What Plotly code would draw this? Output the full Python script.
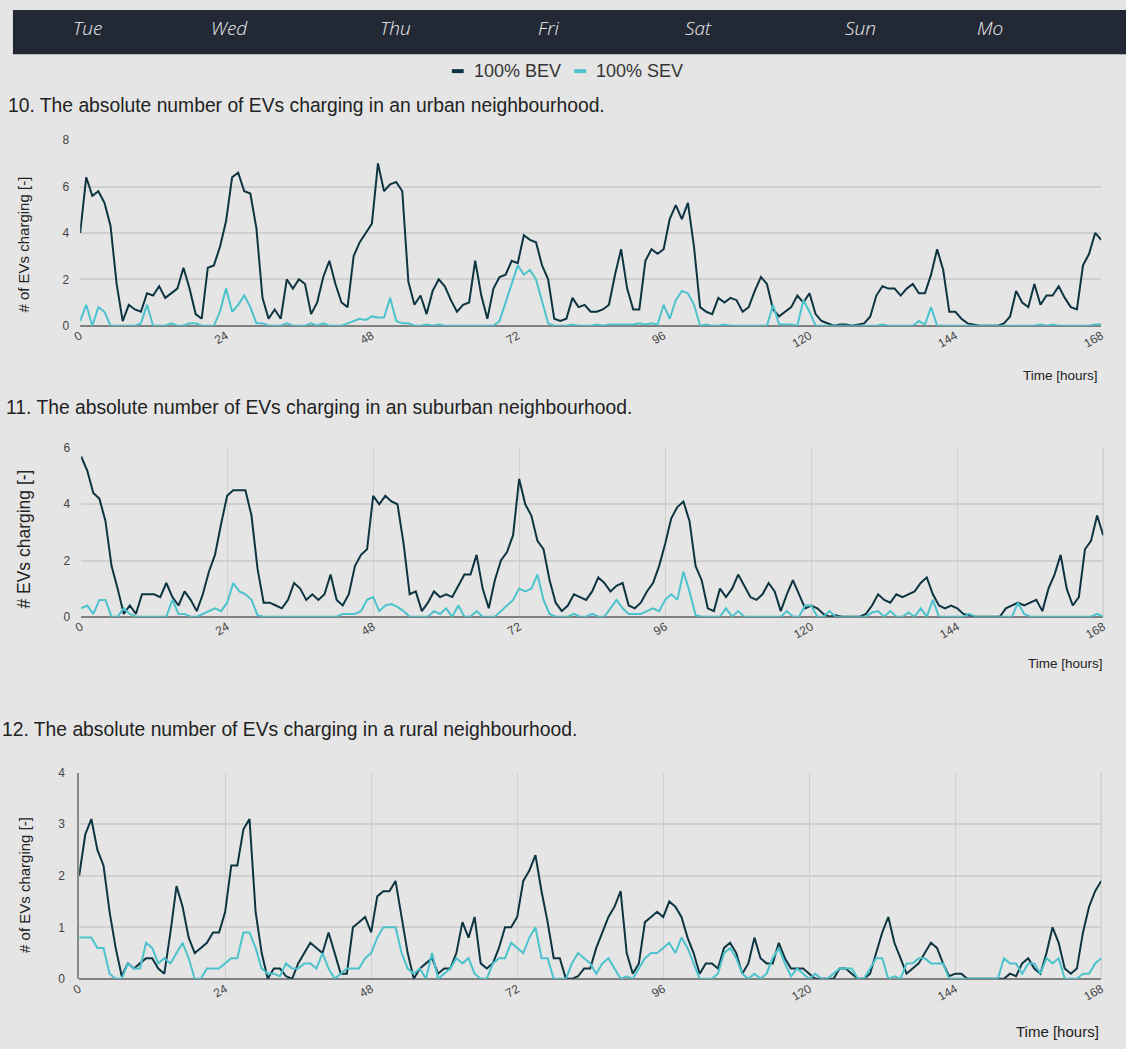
import plotly.graph_objects as go

# figure fills the window; margins are zero, so paper coords = px / size
W, H = 1126, 1049

hours = list(range(169))
days = ["Tue", "Wed", "Thu", "Fri", "Sat", "Sun", "Mo"]
series_names = ["100% BEV", "100% SEV"]

# urban neighbourhood
urban_bev = [4.0, 6.4, 5.6, 5.8, 5.3, 4.3, 1.8, 0.2, 0.9, 0.7, 0.6, 1.4, 1.3, 1.7, 1.2, 1.4, 1.6, 2.5, 1.6, 0.5, 0.3, 2.5, 2.6, 3.4,
             4.5, 6.4, 6.6, 5.8, 5.7, 4.2, 1.2, 0.3, 0.7, 0.3, 2.0, 1.6, 2.0, 1.8, 0.5, 1.0, 2.1, 2.8, 1.8, 1.0, 0.8, 3.0, 3.6, 4.0,
             4.4, 7.0, 5.8, 6.1, 6.2, 5.8, 1.9, 0.9, 1.3, 0.5, 1.5, 2.0, 1.7, 1.1, 0.6, 0.9, 1.0, 2.8, 1.3, 0.3, 1.6, 2.1, 2.2, 2.8,
             2.7, 3.9, 3.7, 3.6, 2.6, 2.0, 0.3, 0.2, 0.3, 1.2, 0.8, 0.9, 0.6, 0.6, 0.7, 0.9, 2.2, 3.3, 1.6, 0.7, 0.7, 2.8, 3.3, 3.1,
             3.3, 4.6, 5.2, 4.6, 5.3, 3.4, 0.8, 0.6, 0.5, 1.2, 1.0, 1.2, 1.1, 0.6, 0.8, 1.5, 2.1, 1.8, 0.7, 0.4, 0.6, 0.8, 1.3, 1.0,
             1.4, 0.5, 0.2, 0.1, 0.0, 0.05, 0.05, 0.0, 0.05, 0.1, 0.4, 1.3, 1.7, 1.6, 1.6, 1.3, 1.6, 1.8, 1.4, 1.4, 2.2, 3.3, 2.4, 0.6,
             0.6, 0.3, 0.1, 0.05, 0.0, 0.0, 0.0, 0.0, 0.1, 0.4, 1.5, 1.0, 0.8, 1.8, 0.9, 1.3, 1.3, 1.7, 1.2, 0.8, 0.7, 2.6, 3.1, 4.0, 3.7]
urban_sev = [0.2, 0.9, 0.0, 0.8, 0.6, 0, 0, 0, 0, 0, 0.1, 0.9, 0, 0, 0, 0.1, 0, 0, 0.1, 0.1, 0, 0, 0, 0.6,
             1.6, 0.6, 0.9, 1.3, 0.8, 0.1, 0.1, 0, 0, 0, 0.1, 0, 0, 0, 0.1, 0, 0.1, 0, 0, 0, 0.1, 0.2, 0.3, 0.25,
             0.4, 0.35, 0.35, 1.2, 0.2, 0.1, 0.1, 0, 0, 0.05, 0, 0.05, 0, 0, 0, 0, 0, 0, 0, 0, 0, 0.2, 1.0, 1.8,
             2.6, 2.2, 2.4, 2.0, 1.0, 0.1, 0, 0, 0, 0.05, 0, 0, 0, 0.05, 0, 0.05, 0.05, 0.05, 0.05, 0.05, 0.1, 0.05, 0.1, 0.05,
             0.9, 0.3, 1.1, 1.5, 1.4, 0.9, 0, 0.05, 0, 0, 0.05, 0, 0, 0, 0, 0, 0, 0, 0.9, 0.05, 0.05, 0.05, 0, 1.1,
             0.6, 0, 0, 0, 0, 0, 0, 0, 0, 0, 0, 0, 0.05, 0, 0, 0, 0, 0, 0.2, 0.05, 0.8, 0, 0, 0,
             0, 0, 0, 0, 0, 0, 0, 0, 0, 0, 0, 0, 0, 0, 0.05, 0, 0.05, 0, 0, 0, 0, 0, 0, 0.05, 0.05]

# suburban neighbourhood
suburban_bev = [5.7, 5.2, 4.4, 4.2, 3.4, 1.8, 1.0, 0.1, 0.4, 0.1, 0.8, 0.8, 0.8, 0.7, 1.2, 0.7, 0.4, 0.9, 0.6, 0.2, 0.8, 1.6, 2.2, 3.3,
                4.3, 4.5, 4.5, 4.5, 3.6, 1.7, 0.5, 0.5, 0.4, 0.3, 0.6, 1.2, 1.0, 0.6, 0.8, 0.6, 0.8, 1.5, 0.6, 0.4, 0.8, 1.8, 2.2, 2.4,
                4.3, 4.0, 4.3, 4.1, 4.0, 2.6, 0.8, 0.9, 0.2, 0.5, 0.9, 0.7, 0.8, 0.7, 1.1, 1.5, 1.5, 2.2, 1.0, 0.3, 1.3, 2.0, 2.3, 2.9,
                4.9, 4.0, 3.6, 2.7, 2.4, 1.3, 0.5, 0.2, 0.4, 0.8, 0.7, 0.6, 0.9, 1.4, 1.2, 0.9, 1.1, 1.2, 0.4, 0.3, 0.5, 0.9, 1.2, 1.8,
                2.6, 3.5, 3.9, 4.1, 3.4, 1.8, 1.3, 0.3, 0.2, 1.0, 0.7, 1.0, 1.5, 1.1, 0.7, 0.6, 0.8, 1.2, 0.9, 0.2, 0.8, 1.3, 0.8, 0.3,
                0.4, 0.3, 0.1, 0.0, 0.05, 0, 0, 0, 0, 0.1, 0.4, 0.8, 0.6, 0.5, 0.8, 0.7, 0.8, 0.9, 1.2, 1.4, 0.8, 0.4, 0.3, 0.4,
                0.3, 0.1, 0.05, 0, 0, 0, 0, 0, 0.3, 0.4, 0.5, 0.4, 0.5, 0.6, 0.2, 1.0, 1.5, 2.2, 1.0, 0.4, 0.7, 2.4, 2.7, 3.6, 2.9]
suburban_sev = [0.3, 0.4, 0.1, 0.6, 0.6, 0, 0, 0.3, 0.1, 0, 0, 0, 0, 0, 0, 0.6, 0.1, 0.1, 0, 0, 0.1, 0.2, 0.3, 0.2,
                0.5, 1.2, 0.9, 0.8, 0.6, 0.05, 0, 0, 0, 0, 0, 0, 0, 0, 0, 0, 0, 0, 0, 0.1, 0.1, 0.1, 0.2, 0.6,
                0.7, 0.2, 0.4, 0.45, 0.35, 0.2, 0, 0, 0, 0, 0.2, 0.1, 0.3, 0, 0.4, 0, 0, 0.2, 0, 0, 0, 0.2, 0.4, 0.6,
                1.0, 0.9, 1.0, 1.5, 0.6, 0.1, 0, 0, 0, 0.1, 0, 0, 0.1, 0, 0, 0.3, 0.6, 0.3, 0.1, 0.1, 0.1, 0.2, 0.3, 0.2,
                0.6, 0.8, 0.6, 1.6, 0.9, 0.05, 0, 0, 0, 0, 0.3, 0, 0.2, 0, 0, 0, 0, 0, 0, 0, 0.2, 0, 0, 0.4,
                0.4, 0, 0, 0.2, 0, 0, 0, 0, 0, 0, 0.15, 0.2, 0, 0.2, 0, 0, 0.15, 0, 0.3, 0, 0.6, 0, 0, 0,
                0, 0, 0.1, 0, 0, 0, 0, 0, 0, 0, 0.5, 0.1, 0, 0, 0, 0, 0, 0, 0, 0, 0, 0, 0, 0.1, 0]

# rural neighbourhood
rural_bev = [2.0, 2.8, 3.1, 2.5, 2.2, 1.3, 0.6, 0.05, 0.3, 0.2, 0.3, 0.4, 0.4, 0.2, 0.1, 0.9, 1.8, 1.4, 0.8, 0.5, 0.6, 0.7, 0.9, 0.9,
             1.3, 2.2, 2.2, 2.9, 3.1, 1.3, 0.5, 0.0, 0.2, 0.2, 0.05, 0.0, 0.3, 0.5, 0.7, 0.6, 0.5, 0.9, 0.5, 0.1, 0.1, 1.0, 1.1, 1.2,
             0.9, 1.6, 1.7, 1.7, 1.9, 1.2, 0.5, 0.0, 0.2, 0.3, 0.4, 0.1, 0.2, 0.2, 0.5, 1.1, 0.8, 1.2, 0.3, 0.2, 0.3, 0.6, 1.0, 1.0,
             1.2, 1.9, 2.1, 2.4, 1.7, 1.1, 0.4, 0.4, 0.0, 0.0, 0.05, 0.2, 0.2, 0.6, 0.9, 1.2, 1.4, 1.7, 0.5, 0.1, 0.3, 1.1, 1.2, 1.3,
             1.2, 1.5, 1.4, 1.2, 0.8, 0.5, 0.1, 0.3, 0.3, 0.2, 0.6, 0.7, 0.5, 0.1, 0.3, 0.8, 0.4, 0.3, 0.3, 0.7, 0.4, 0.2, 0.2, 0.2,
             0.1, 0.0, 0.0, 0.0, 0.0, 0.2, 0.2, 0.1, 0.0, 0.0, 0.1, 0.5, 0.9, 1.2, 0.7, 0.4, 0.1, 0.2, 0.3, 0.5, 0.7, 0.6, 0.3, 0.05,
             0.1, 0.1, 0.0, 0.0, 0.0, 0.0, 0.0, 0.0, 0.0, 0.1, 0.05, 0.3, 0.4, 0.2, 0.1, 0.5, 1.0, 0.7, 0.2, 0.1, 0.2, 0.9, 1.4, 1.7, 1.9]
rural_sev = [0.8, 0.8, 0.8, 0.6, 0.6, 0.1, 0, 0, 0.3, 0.2, 0.2, 0.7, 0.6, 0.3, 0.4, 0.3, 0.5, 0.7, 0.4, 0, 0, 0.2, 0.2, 0.2,
             0.3, 0.4, 0.4, 0.9, 0.9, 0.6, 0.2, 0.1, 0.1, 0.05, 0.3, 0.2, 0.2, 0.3, 0.3, 0.2, 0.5, 0.2, 0, 0.1, 0.2, 0.2, 0.2, 0.4,
             0.5, 0.8, 1.0, 1.0, 1.0, 0.5, 0.2, 0.1, 0.2, 0, 0.5, 0, 0.1, 0.2, 0.4, 0.3, 0.4, 0.1, 0, 0, 0.3, 0.4, 0.4, 0.7,
             0.6, 0.5, 0.8, 1.0, 0.4, 0.4, 0, 0, 0, 0.3, 0.5, 0.4, 0.3, 0.1, 0.3, 0.4, 0.2, 0, 0.05, 0, 0.2, 0.4, 0.5, 0.5,
             0.6, 0.7, 0.5, 0.8, 0.6, 0.3, 0, 0, 0, 0.1, 0.5, 0.6, 0.4, 0.1, 0, 0.1, 0, 0.1, 0.4, 0.6, 0.3, 0.05, 0.2, 0.1,
             0, 0.1, 0, 0, 0.1, 0.2, 0.2, 0.2, 0, 0, 0.2, 0.4, 0.4, 0, 0.05, 0, 0.3, 0.3, 0.4, 0.4, 0.3, 0.3, 0.3, 0,
             0, 0, 0, 0, 0, 0, 0, 0, 0.4, 0.3, 0.3, 0.1, 0.3, 0.3, 0.1, 0.4, 0.3, 0.4, 0, 0, 0, 0.1, 0.1, 0.3, 0.4]

BEV_COLOR = "#0d3541"
SEV_COLOR = "#4cc3cc"
BG = "#e5e5e5"
GRID = "#d0d0d0"
FONT = "Liberation Sans, Arial, sans-serif"


def px(x):
    return x / W


def py(y):
    return 1 - y / H


panels = [
    dict(bev=urban_bev, sev=urban_sev, ymax=8, dtick=2, x=(73, 1106), y=(135, 323), vgrid=False, yline=False,
         title="10. The absolute number of EVs charging in an urban neighbourhood.", title_end=606, title_y=100,
         ytitle="# of EVs charging [-]", ytitle_size=15, ytitle_y=241, xtitle_y=373, xtitle_end=1105, xtitle_size=13.5),
    dict(bev=suburban_bev, sev=suburban_sev, ymax=6, dtick=2, x=(74, 1108), y=(447, 618), vgrid=True, yline=False,
         title="11. The absolute number of EVs charging in an suburban neighbourhood.", title_end=633, title_y=406,
         ytitle="# EVs charging [-]", ytitle_size=17.5, ytitle_y=539, xtitle_y=665, xtitle_end=1110, xtitle_size=13.5),
    dict(bev=rural_bev, sev=rural_sev, ymax=4, dtick=1, x=(72, 1106), y=(776, 985), vgrid=True, yline=True,
         title="12. The absolute number of EVs charging in a rural neighbourhood.", title_end=578, title_y=732,
         ytitle="# of EVs charging [-]", ytitle_size=15, ytitle_y=890, xtitle_y=1038, xtitle_end=1106, xtitle_size=15),
]

fig = go.Figure()
annotations = []
shapes = []
layout_axes = {}

for i, p in enumerate(panels, start=1):
    xa = "x" if i == 1 else f"x{i}"
    ya = "y" if i == 1 else f"y{i}"
    fig.add_trace(go.Scatter(x=hours, y=p["bev"], xaxis=xa, yaxis=ya, mode="lines", name=series_names[0],
                             line=dict(color=BEV_COLOR, width=2), showlegend=False))
    fig.add_trace(go.Scatter(x=hours, y=p["sev"], xaxis=xa, yaxis=ya, mode="lines", name=series_names[1],
                             line=dict(color=SEV_COLOR, width=2), showlegend=False))

    layout_axes["xaxis" if i == 1 else f"xaxis{i}"] = dict(
        domain=[px(p["x"][0]), px(p["x"][1])], anchor=ya, range=[0, 168],
        tickvals=list(range(0, 169, 24)), tickangle=-30, ticks="",
        showgrid=p["vgrid"], gridcolor=GRID, gridwidth=1, zeroline=False, showline=False,
        tickfont=dict(family=FONT, size=12, color="#444"))
    layout_axes["yaxis" if i == 1 else f"yaxis{i}"] = dict(
        domain=[py(p["y"][1]), py(p["y"][0])], anchor=xa, range=[0, p["ymax"]], dtick=p["dtick"],
        ticks="", showgrid=True, gridcolor=GRID, gridwidth=1.5, ticklabelstandoff=10,
        zeroline=True, zerolinecolor="#808080", zerolinewidth=2,
        showline=p["yline"], linecolor="#8a8a8a", linewidth=1.5,
        tickfont=dict(family=FONT, size=12, color="#444"))

    # right-hand border for the gridded panels
    if p["vgrid"]:
        shapes.append(dict(type="line", xref=f"{xa} domain", yref=f"{ya} domain", x0=1, x1=1, y0=0, y1=1,
                           line=dict(color=GRID, width=1.5), layer="below"))

    annotations.append(dict(text=p["title"], x=px(p["title_end"]), y=py(p["title_y"]), xref="paper", yref="paper",
                            xanchor="right", yanchor="middle", showarrow=False,
                            font=dict(family=FONT, size=19.3, color="#222")))
    annotations.append(dict(text=p["ytitle"], x=px(16), y=py(p["ytitle_y"]), xref="paper", yref="paper",
                            textangle=-90, xanchor="center", yanchor="middle", showarrow=False,
                            font=dict(family=FONT, size=p["ytitle_size"], color="#222")))
    annotations.append(dict(text="Time [hours]", x=px(p["xtitle_end"]), y=py(p["xtitle_y"]), xref="paper",
                            yref="paper", xanchor="right", yanchor="middle", showarrow=False,
                            font=dict(family=FONT, size=p["xtitle_size"], color="#222")))

# dark header bar with the week days
shapes.append(dict(type="rect", xref="paper", yref="paper", x0=px(5), x1=px(1140), y0=py(48), y1=py(3),
                   fillcolor="#222935", line=dict(width=0), layer="below"))
day_x = [80, 224, 392, 547, 699, 862, 993]
for d, dx in zip(days, day_x):
    annotations.append(dict(text=f"<i>{d}</i>", x=px(dx), y=py(21), xref="paper", yref="paper",
                            xanchor="center", yanchor="middle", showarrow=False,
                            font=dict(family="Open Sans, sans-serif", size=19, weight=300, color="#eeeeee")))

# legend drawn by hand (small colour dashes + labels)
for name, color, x0 in [(series_names[0], BEV_COLOR, 449), (series_names[1], SEV_COLOR, 573)]:
    shapes.append(dict(type="rect", xref="paper", yref="paper", x0=px(x0), x1=px(x0 + 12), y0=py(67), y1=py(63),
                       fillcolor=color, line=dict(width=0)))
    annotations.append(dict(text=name, x=px(x0 + 20), y=py(65), xref="paper", yref="paper",
                            xanchor="left", yanchor="middle", showarrow=False,
                            font=dict(family=FONT, size=18, color="#333")))

fig.update_layout(
    width=W, height=H,
    margin=dict(l=0, r=0, t=0, b=0),
    paper_bgcolor=BG, plot_bgcolor=BG,
    showlegend=False,
    annotations=annotations,
    shapes=shapes,
    font=dict(family=FONT),
    **layout_axes,
)

# drop the browser's default body margin so the figure fills the window
fig.write_html("out.html", config={"displayModeBar": False},
               post_script="document.body.setAttribute('style','margin:0;padding:0;overflow:hidden;background:#e5e5e5');")
